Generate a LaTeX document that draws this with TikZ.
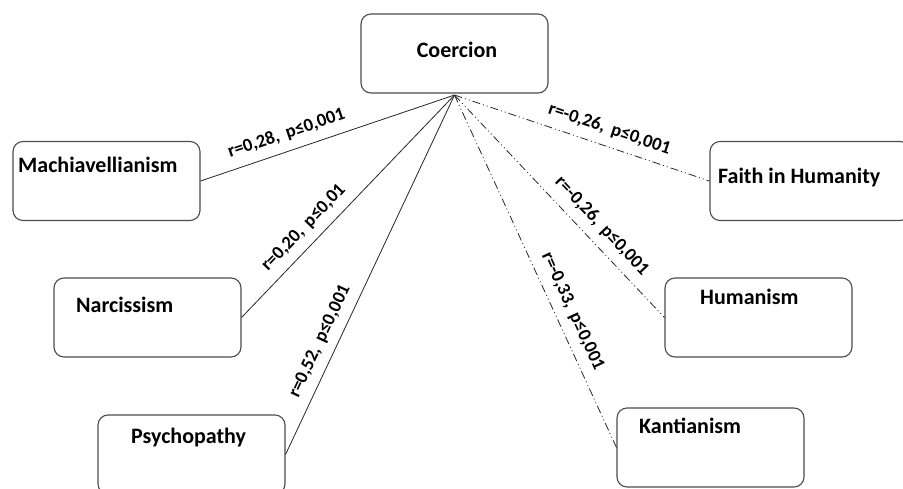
\documentclass[tikz,border=0pt]{standalone}
\usepackage{fontspec}
\setmainfont{Carlito}
\begin{document}
\begin{tikzpicture}[x=1pt,y=-1pt,
  box/.style={draw=black!70, line width=1.1pt, rounded corners=10pt, fill=white,
    minimum width=187pt, minimum height=79pt, inner sep=0pt},
  boxtext/.style={font=\fontsize{22}{26}\selectfont\bfseries, inner sep=0pt},
  pos link/.style={draw=black!85, line width=0.8pt},
  neg link/.style={draw=black!85, line width=0.8pt,
    dash pattern=on 8pt off 3pt on 1pt off 3pt on 1pt off 3pt},
  corr/.style={sloped, above=9pt, inner sep=0pt,
    font=\fontsize{18.5}{22}\selectfont\bfseries}]
\useasboundingbox (0,0) rectangle (903,488);

% boxes
\node[box] (coer)  at (454.5,53.5) {};
\node[box] (mach)  at (106.5,181) {};
\node[box] (narc)  at (147.5,317.5) {};
\node[box] (psych) at (191.5,454.5) {};
\node[box, minimum width=200pt] (faith) at (810,181) {};
\node[box] (hum)   at (758.5,317.5) {};
\node[box] (kant)  at (710.5,447.5) {};

% box titles
\node[boxtext] (tcoer) at (457,50) {Coercion};
\node[boxtext, anchor=west] (tmach)  at (18,165)  {Machiavellianism};
\node[boxtext, anchor=west] (tnarc)  at (76,305)  {Narcissism};
\node[boxtext, anchor=west] (tpsych) at (131,438) {Psychopathy};
\node[boxtext, anchor=west] (tfaith) at (718,178) {Faith in Humanity};
\node[boxtext, anchor=west] (thum)   at (700,297) {Humanism};
\node[boxtext, anchor=west] (tkant)  at (639,426) {Kantianism};

\coordinate (apex) at ([yshift=-1.5pt]coer.south);

% positive correlations
\draw[pos link] (mach.east)  -- node[corr, pos=0.36] {r=0,28,\, p≤0,001} (apex);
\draw[pos link] (narc.east)  -- node[corr, pos=0.35] {r=0,20,\, p≤0,01} (apex);
\draw[pos link] (psych.east) -- node[corr, pos=0.295] {r=0,52,\, p≤0,001} (apex);

% negative correlations
\draw[neg link] (apex) -- node[corr, pos=0.586] {r=-0,26,\, p≤0,001} (faith.west);
\draw[neg link] (apex) -- node[corr, pos=0.642] {r=-0,26,\, p≤0,001} (hum.west);
\draw[neg link] (apex) -- node[corr, pos=0.634] {r=-0,33,\, p≤0,001} (kant.west);
\end{tikzpicture}
\end{document}
